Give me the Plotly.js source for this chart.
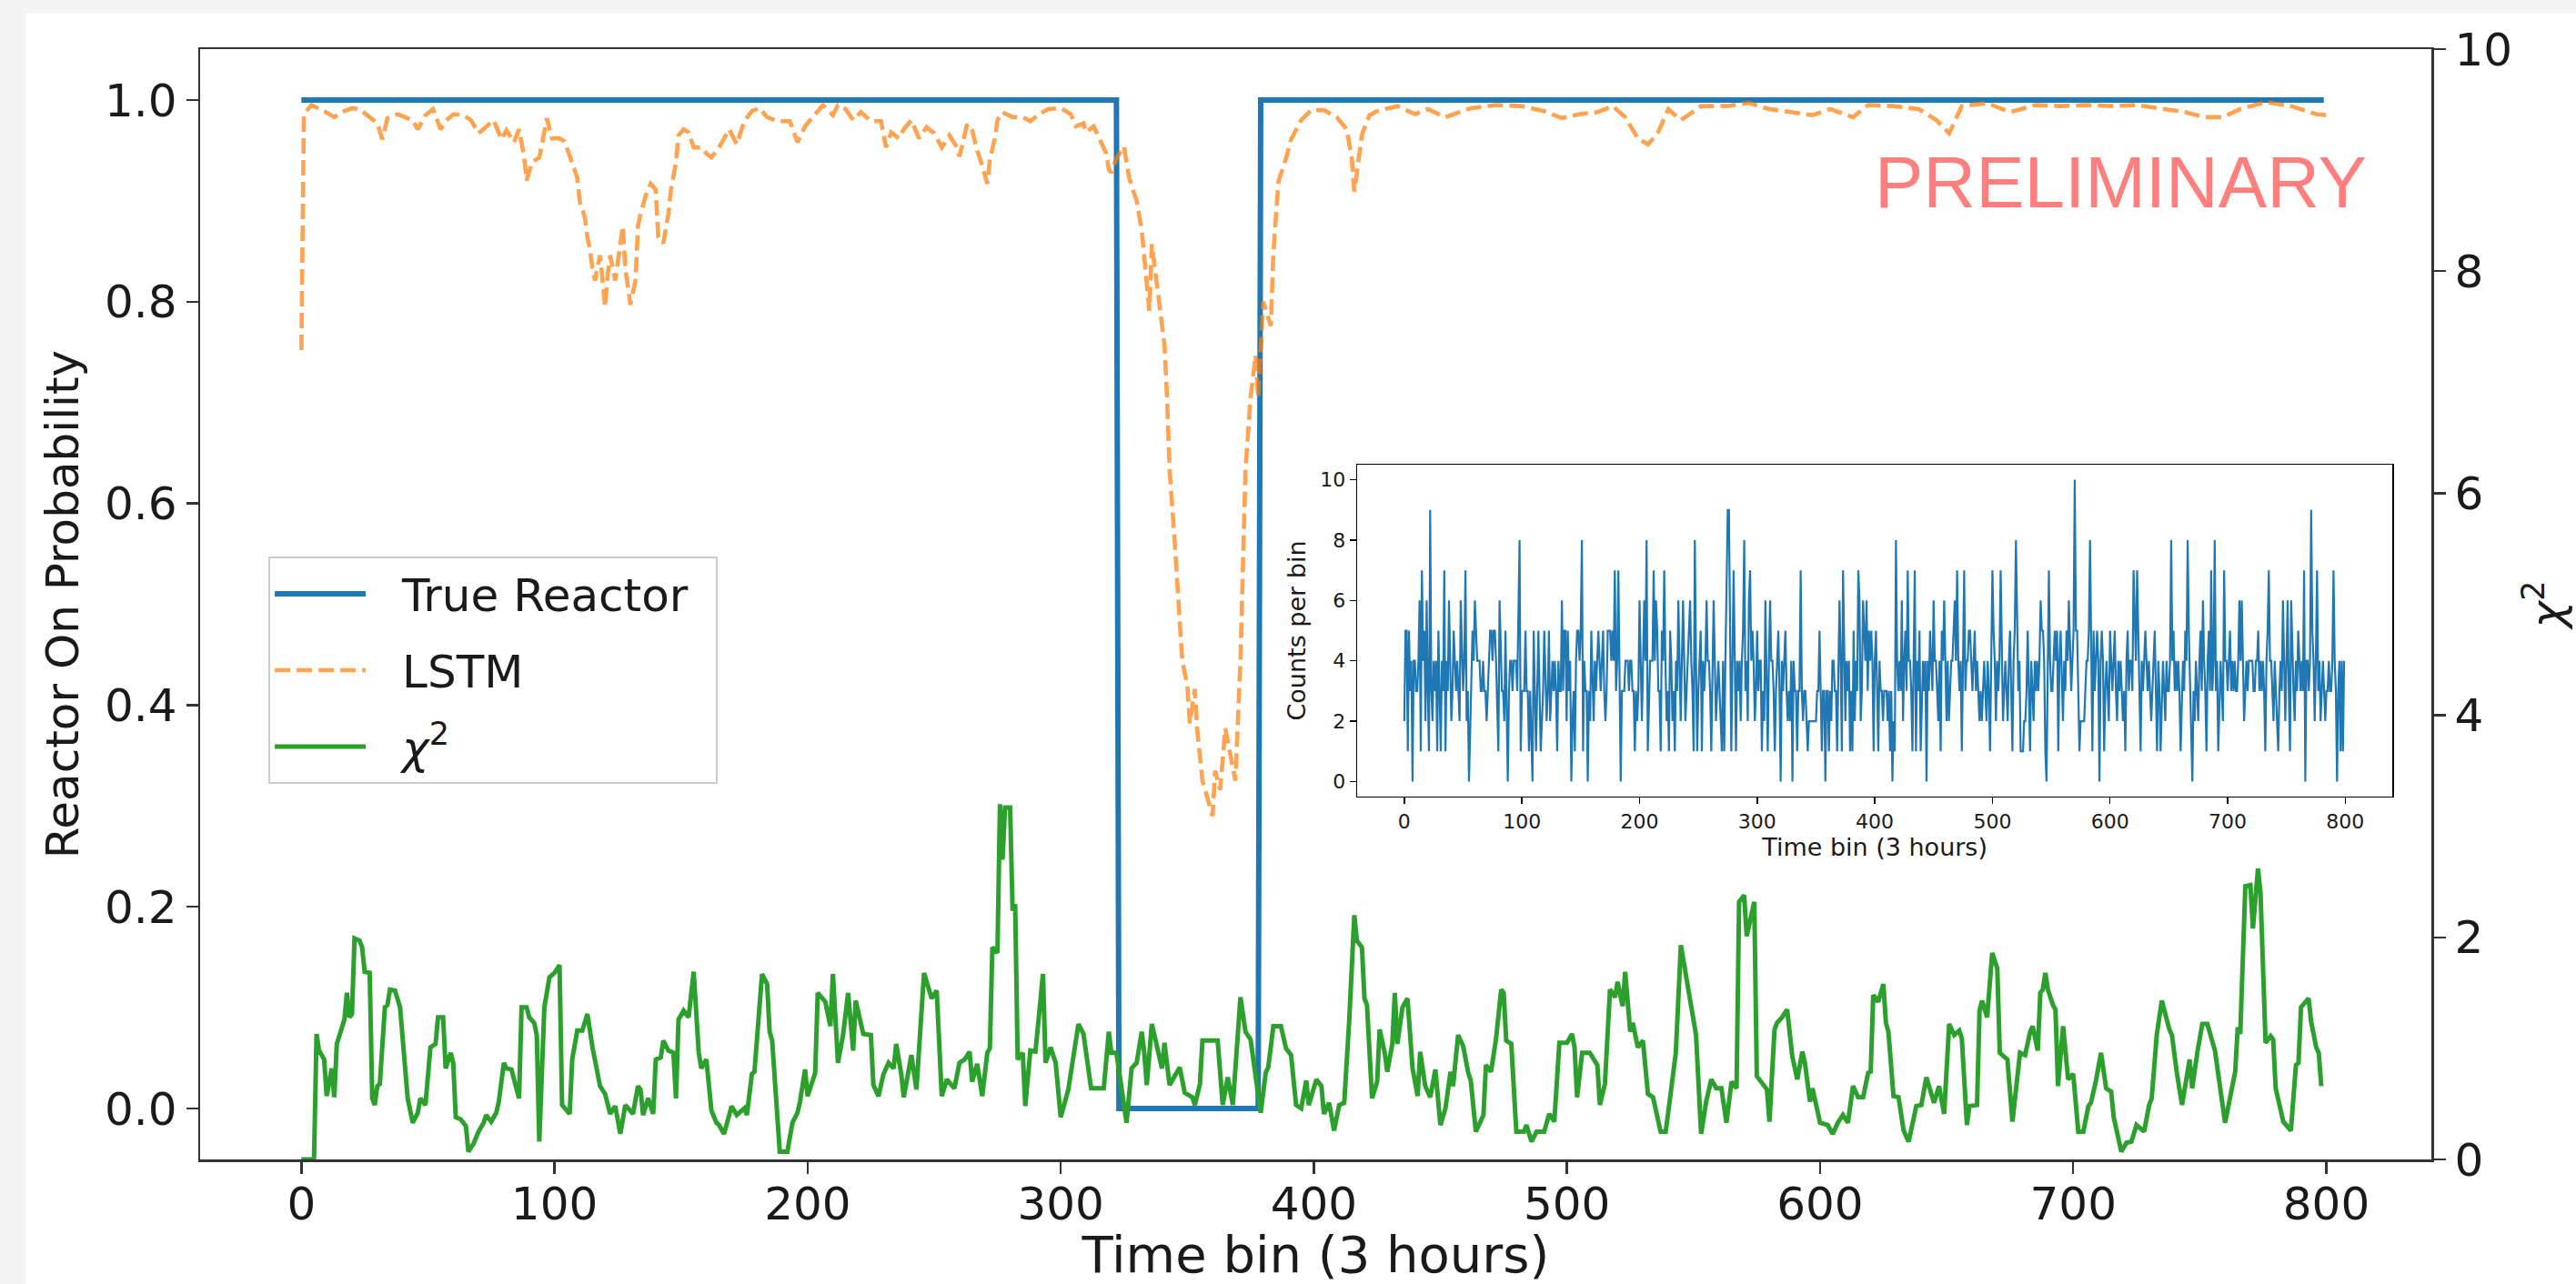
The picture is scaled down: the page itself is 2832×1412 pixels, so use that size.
<!DOCTYPE html>
<html>
<head>
<meta charset="utf-8">
<script src="https://cdn.plot.ly/plotly-3.0.1.min.js"></script>
<style>
  html, body { margin: 0; padding: 0; background: #f4f4f4; width: 2832px; height: 1412px; overflow: hidden; }
  #chart { position: absolute; left: 28px; top: 15px; width: 2804px; height: 1397px; background: #ffffff; }
</style>
</head>
<body>
<div id="chart"></div>
<script>
// ---------- DATA ----------
const trueBins = [0, 322, 323, 378, 379, 799];
const trueVals = [1, 1, 0, 0, 1, 1];

const lstmBins = [0,1,4,9,13,16,20,23,27,30,32,34,38,41,44,46,49,52,55,57,60,64,67,70,73,76,79,81,84,86,88,89,91,94,95,97,99,102,104,107,109,110,112,113,114,115,116,118,120,121,122,124,126,127,128,130,132,133,134,136,138,140,141,143,145,146,148,149,151,153,155,158,160,162,165,169,172,175,178,181,184,188,193,196,199,202,206,210,212,215,218,221,225,229,231,233,236,238,241,244,247,250,253,256,259,260,263,265,267,269,271,272,274,275,277,281,285,288,291,295,300,304,306,309,310,313,316,318,319,320,322,325,327,330,332,333,335,336,338,341,342,343,345,347,348,350,351,353,354,356,358,360,361,363,365,367,369,371,372,373,375,377,378,380,383,384,386,389,391,395,399,404,409,413,415,416,419,422,425,433,440,445,452,462,472,482,491,498,505,512,518,523,528,532,536,540,545,553,563,572,580,590,597,604,613,619,629,639,646,651,656,666,675,685,695,705,715,725,734,744,752,759,766,776,786,796,800];
const lstmVals = [0.752,0.986,0.995,0.989,0.983,0.988,0.992,0.991,0.983,0.977,0.961,0.982,0.986,0.983,0.980,0.971,0.985,0.991,0.971,0.979,0.986,0.985,0.980,0.967,0.974,0.980,0.961,0.970,0.958,0.971,0.944,0.920,0.938,0.943,0.955,0.982,0.962,0.962,0.959,0.937,0.923,0.899,0.884,0.864,0.852,0.833,0.821,0.846,0.795,0.827,0.846,0.821,0.855,0.875,0.833,0.797,0.821,0.875,0.887,0.905,0.917,0.911,0.864,0.858,0.887,0.911,0.938,0.965,0.971,0.968,0.953,0.953,0.947,0.943,0.953,0.971,0.956,0.979,0.989,0.992,0.983,0.979,0.979,0.958,0.974,0.983,0.995,0.985,0.995,0.991,0.980,0.988,0.979,0.979,0.953,0.968,0.962,0.971,0.980,0.962,0.973,0.967,0.953,0.965,0.953,0.944,0.976,0.970,0.950,0.935,0.917,0.941,0.962,0.980,0.988,0.983,0.983,0.979,0.985,0.991,0.992,0.986,0.974,0.977,0.968,0.974,0.959,0.947,0.931,0.928,0.942,0.954,0.923,0.900,0.871,0.843,0.791,0.857,0.814,0.757,0.705,0.634,0.563,0.492,0.444,0.420,0.382,0.416,0.373,0.325,0.307,0.290,0.335,0.316,0.377,0.349,0.325,0.444,0.539,0.634,0.705,0.747,0.705,0.800,0.776,0.848,0.919,0.942,0.961,0.980,0.990,0.990,0.983,0.971,0.942,0.909,0.966,0.985,0.989,0.994,0.986,0.991,0.983,0.992,0.995,0.994,0.989,0.982,0.986,0.988,0.994,0.983,0.962,0.956,0.968,0.991,0.980,0.994,0.994,0.997,0.991,0.988,0.985,0.991,0.983,0.995,0.994,0.991,0.980,0.967,0.994,0.997,0.988,0.995,0.994,0.995,0.994,0.995,0.992,0.988,0.983,0.983,0.991,0.998,0.994,0.986,0.985];

const chiBins = [0,5,6,7,9,10,12,13,14,17,18,19,20,21,23,24,25,27,28,29,30,31,33,34,35,37,39,41,42,44,46,47,49,51,53,54,56,57,59,60,61,63,65,66,68,70,72,73,75,77,78,80,81,83,84,86,87,89,90,92,93,94,96,98,100,102,103,106,107,109,111,113,115,117,118,120,122,124,126,128,131,133,134,135,137,139,140,142,143,145,147,148,149,151,153,155,156,157,158,160,162,164,165,167,170,172,175,176,178,179,182,184,185,186,189,192,194,196,197,199,200,203,204,207,209,210,212,214,216,218,219,221,222,225,226,228,230,232,234,235,237,238,241,243,246,249,251,253,255,258,260,262,264,265,267,269,271,272,273,275,276,277,278,280,281,282,283,285,286,288,290,291,293,294,296,298,300,303,307,309,312,317,319,320,322,326,328,330,332,333,334,336,338,340,341,343,345,347,349,352,353,355,356,359,362,364,366,368,371,373,375,379,381,382,384,387,389,391,393,395,397,398,401,403,404,406,408,410,412,414,416,417,419,420,421,423,425,426,428,429,431,432,433,435,437,439,441,442,444,446,448,450,452,454,455,457,459,461,462,464,467,468,470,472,474,475,476,478,480,483,484,486,488,491,493,495,497,500,502,503,504,506,509,512,513,515,517,519,520,522,523,525,526,528,530,532,534,537,539,541,543,545,548,551,553,555,557,559,561,563,565,567,568,570,571,573,574,575,578,579,580,582,583,585,587,589,591,593,594,596,597,600,603,605,607,609,611,613,615,617,619,620,621,623,625,626,627,629,631,633,635,638,640,642,645,647,649,651,653,655,656,658,659,662,663,664,666,668,670,671,674,676,677,679,681,683,684,686,687,688,689,690,692,693,694,696,698,700,702,704,706,707,709,711,713,715,716,719,721,723,725,728,730,731,733,735,738,739,741,743,746,747,749,751,753,756,760,762,764,765,766,768,770,771,773,774,776,778,779,780,783,786,788,789,790,793,794,796,797,798];
const chiVals = [0,0,1.13,0.98,0.90,0.57,0.82,0.56,1.04,1.26,1.50,1.28,1.31,1.99,1.97,1.91,1.69,1.68,0.55,0.49,0.66,0.68,1.37,1.39,1.53,1.52,1.37,0.85,0.55,0.33,0.42,0.55,0.49,1.01,1.04,1.28,1.28,0.82,0.96,0.87,0.38,0.36,0.30,0.07,0.14,0.25,0.33,0.40,0.34,0.42,0.52,0.87,0.82,0.81,0.71,0.55,1.37,1.37,1.28,1.23,1.12,0.16,1.37,1.64,1.68,1.75,0.49,0.41,0.90,1.16,1.16,1.31,1.01,0.77,0.66,0.59,0.41,0.48,0.23,0.49,0.41,0.66,0.63,0.40,0.55,0.41,0.90,0.92,1.07,0.98,0.96,0.55,1.26,1.34,1.28,1.69,1.31,0.96,0.82,0.90,0.44,0.33,0.31,0.23,0.48,0.40,0.46,0.40,0.77,0.79,1.67,1.58,1.15,1.07,0.07,0.07,0.33,0.42,0.52,0.81,0.57,0.78,1.50,1.42,1.20,1.67,0.87,1.12,1.50,0.98,1.43,1.23,1.13,1.12,0.67,0.57,0.77,0.87,0.82,1.04,0.77,0.56,0.94,0.63,1.68,1.45,1.52,0.57,0.72,0.64,0.87,0.90,0.97,0.70,0.86,0.57,0.96,1.00,1.91,1.86,3.20,2.70,3.17,3.17,2.24,2.30,0.90,0.96,0.48,0.98,0.97,1.20,1.67,0.87,1.01,0.87,0.38,0.63,1.22,1.13,0.64,0.64,1.15,0.96,0.96,0.33,0.82,0.87,1.15,0.96,0.67,1.22,1.01,0.82,1.05,0.67,0.75,0.83,0.60,0.56,0.49,0.68,1.07,1.07,1.07,0.49,0.74,0.49,1.46,1.15,1.08,0.42,0.78,0.83,1.20,1.20,1.00,0.94,0.49,0.46,0.71,0.49,0.72,0.66,0.41,0.51,0.26,0.49,0.51,1.26,2.20,1.97,1.91,1.45,1.39,0.55,0.70,1.17,0.96,0.79,1.04,1.50,1.04,1.37,1.45,0.82,0.57,0.97,0.66,0.56,0.81,0.31,0.46,0.79,0.66,1.12,1.02,0.78,0.71,0.25,0.40,0.85,0.79,1.09,1.53,1.50,1.07,1.04,0.25,0.25,0.31,0.16,0.25,0.25,0.41,0.34,1.05,1.05,1.13,1.01,0.56,0.96,0.96,0.85,0.49,0.68,1.53,1.46,1.60,1.38,1.69,1.15,1.23,1.01,1.07,0.59,0.56,0.25,0.25,0.60,0.96,1.93,1.50,1.12,0.23,0.52,0.72,0.64,0.64,0.33,0.70,0.64,2.32,2.38,2.01,2.20,2.32,0.75,0.67,0.63,0.34,1.17,1.23,1.28,1.35,0.93,0.72,0.97,0.87,0.52,0.64,0.33,0.31,0.23,0.33,0.40,0.33,0.66,0.56,0.56,0.78,0.79,1.48,1.42,1.58,1.23,1.15,0.57,0.56,0.26,0.16,0.48,0.49,0.74,0.51,0.66,0.41,1.22,1.12,1.16,1.09,0.31,0.48,0.49,1.34,1.43,1.28,1.86,1.72,0.96,0.90,0.34,0.55,0.96,0.94,1.15,1.20,0.98,1.50,1.53,1.68,1.53,1.39,1.35,0.66,1.20,0.72,0.77,0.25,0.25,0.48,0.51,0.71,0.96,0.64,0.61,0.38,0.07,0.15,0.16,0.31,0.25,0.49,0.55,1.12,1.43,1.17,1.12,0.77,0.49,0.90,0.64,0.96,1.22,1.22,0.98,0.33,0.55,0.79,1.19,1.13,2.46,2.47,2.08,2.62,2.40,1.05,1.11,1.08,0.64,0.34,0.26,0.85,0.87,1.37,1.45,1.24,1.01,0.96,0.66];

// inset: counts per time bin, one value per bin 0..799
const counts = [
2,5,5,1,5,3,4,0,4,4,3,3,4,6,1,7,4,5,2,6,3,1,9,3,2,4,3,4,1,5,3,1,4,3,7,1,4,3,6,4,2,3,5,4,3,4,3,2,6,4,
3,4,7,2,3,0,2,3,5,4,6,5,4,4,4,3,3,4,3,3,2,3,4,5,5,4,5,5,4,2,1,6,4,3,3,2,5,3,0,3,4,4,3,4,4,4,3,5,8,1,
3,3,3,5,3,3,1,3,1,0,5,3,1,3,5,3,1,2,3,5,3,2,3,5,2,3,4,3,4,3,1,4,3,3,6,3,5,5,2,5,3,4,0,2,3,1,4,5,5,4,
5,8,1,4,3,3,0,3,2,5,3,2,4,3,4,5,4,3,4,5,3,2,3,5,5,5,4,5,4,7,3,4,7,3,0,3,3,3,4,4,4,3,4,4,3,3,1,3,2,3,
6,4,2,4,6,4,8,1,3,4,4,4,7,4,6,5,3,3,1,5,4,7,4,2,3,1,5,4,2,3,1,4,3,6,4,2,4,6,4,2,3,4,5,6,4,3,1,8,4,1,
3,4,5,1,4,3,4,6,4,4,3,1,4,6,4,2,3,4,3,2,1,4,1,4,6,9,9,4,1,4,7,4,1,4,3,4,2,4,5,8,3,4,2,6,7,4,5,4,2,3,
5,3,4,4,1,3,2,6,3,1,4,6,4,4,3,1,3,4,5,3,0,4,3,4,5,3,2,3,2,4,0,4,3,3,1,3,3,7,3,2,3,3,2,1,2,2,2,2,2,2,
2,3,3,5,3,1,3,3,0,3,3,1,3,2,4,4,3,3,1,4,6,4,1,7,4,2,4,3,4,1,3,1,5,2,4,3,7,6,2,3,6,5,4,6,3,5,4,5,4,1,
4,5,3,1,4,3,3,2,3,3,3,2,3,1,3,0,2,1,8,4,3,4,3,6,2,4,5,3,7,4,4,3,1,4,7,1,4,3,5,1,3,4,3,4,0,4,3,5,4,3,
6,4,4,3,2,4,1,5,4,6,4,2,4,2,3,4,4,5,6,4,7,4,3,4,1,4,7,3,4,4,5,5,4,3,4,5,3,4,3,2,3,2,3,4,3,2,4,3,1,4,
7,5,4,2,4,3,4,7,4,2,3,4,3,2,4,5,3,1,4,5,8,5,3,4,1,1,1,2,2,3,5,3,1,4,3,2,4,3,4,3,4,6,5,5,4,1,0,4,7,4,
3,3,4,5,4,5,1,4,5,3,2,4,3,5,4,6,4,3,4,5,10,5,5,3,1,2,2,2,2,3,4,4,5,8,4,1,5,3,4,5,4,0,4,5,4,1,3,4,3,2,
5,4,3,4,5,3,2,4,3,4,3,2,3,1,4,5,3,4,4,3,7,5,4,7,5,3,1,4,3,4,5,4,3,4,3,2,3,4,5,3,1,4,3,1,3,4,3,2,4,3,
3,4,8,4,5,3,4,3,4,3,1,3,4,3,5,4,8,5,3,2,0,3,2,4,3,2,4,5,3,6,4,3,1,4,5,3,7,3,4,8,3,4,1,3,4,3,2,7,4,4,
3,4,5,3,4,3,4,3,3,4,6,4,6,4,2,3,4,3,4,4,4,4,3,3,4,4,5,3,4,3,4,3,1,4,5,7,4,4,3,2,4,3,2,1,3,4,3,6,4,2,
4,6,3,1,6,4,3,2,4,3,5,4,3,4,3,7,0,4,4,3,4,9,5,4,2,4,7,3,4,2,3,4,3,2,3,3,4,3,3,4,7,4,3,0,3,4,1,4,1,4
];
const countBins = counts.map((v, i) => i);

const mainXTicks = [0, 100, 200, 300, 400, 500, 600, 700, 800];
const probTicks = [0.0, 0.2, 0.4, 0.6, 0.8, 1.0];
const chiTicks = [0, 2, 4, 6, 8, 10];
const insetXTicks = [0, 100, 200, 300, 400, 500, 600, 700, 800];
const insetYTicks = [0, 2, 4, 6, 8, 10];

// ---------- PLOT ----------
const F = 'DejaVu Sans, Liberation Sans, sans-serif';
const dark = '#1a1a1a';
const spine = '#333333';
const gap = '\u2002\u2009';

const traces = [
  { x: trueBins, y: trueVals, type: 'scatter', mode: 'lines', name: gap + 'True Reactor\u2002', legendgroup: 'a',
    line: { color: '#1f77b4', width: 6 }, xaxis: 'x', yaxis: 'y' },
  { x: lstmBins, y: lstmVals, type: 'scatter', mode: 'lines', name: gap + 'LSTM', legendgroup: 'b',
    line: { color: 'rgba(255,127,14,0.72)', width: 4.6, dash: '17px,7px' }, xaxis: 'x', yaxis: 'y' },
  { x: chiBins, y: chiVals, type: 'scatter', mode: 'lines', name: gap + '<i>χ</i><sup>2</sup>', legendgroup: 'c',
    line: { color: '#2ca02c', width: 5 }, xaxis: 'x', yaxis: 'y2' },
  { x: countBins, y: counts, type: 'scatter', mode: 'lines', showlegend: false,
    line: { color: '#1f77b4', width: 2.2 }, xaxis: 'x3', yaxis: 'y3' }
];

const layout = {
  width: 2804, height: 1397,
  paper_bgcolor: '#ffffff', plot_bgcolor: 'rgba(0,0,0,0)',
  margin: { l: 192, r: 159, t: 39, b: 137 },
  font: { family: F, color: dark },
  showlegend: true,
  xaxis: {
    domain: [0, 1], range: [-40, 841.5], anchor: 'y',
    tickvals: mainXTicks, ticktext: mainXTicks.map(String),
    ticks: 'outside', ticklen: 13, tickwidth: 2.5, tickcolor: spine,
    ticklabelstandoff: -10,
    showline: true, linecolor: spine, linewidth: 2.5, mirror: true,
    showgrid: false, zeroline: false,
    tickfont: { size: 50, family: F, color: dark },
    title: { text: 'Time bin (3 hours)', font: { size: 56, family: F, color: dark }, standoff: 12 }
  },
  yaxis: {
    domain: [0, 1], range: [-0.0505, 1.0505], anchor: 'x',
    tickvals: probTicks, ticktext: probTicks.map(v => v.toFixed(1)),
    ticks: 'outside', ticklen: 13, tickwidth: 2.5, tickcolor: spine,
    showline: true, linecolor: spine, linewidth: 2.5,
    showgrid: false, zeroline: false,
    tickfont: { size: 50, family: F, color: dark },
    title: { text: 'Reactor On Probability', font: { size: 50, family: F, color: dark }, standoff: 13 }
  },
  yaxis2: {
    overlaying: 'y', side: 'right', anchor: 'x', range: [0, 10],
    tickvals: chiTicks, ticktext: chiTicks.map(String),
    ticks: 'outside', ticklen: 13, tickwidth: 2.5, tickcolor: spine,
    showline: true, linecolor: spine, linewidth: 2.5,
    showgrid: false, zeroline: false,
    tickfont: { size: 50, family: F, color: dark },
    title: { text: '<i>χ</i><sup>2</sup>', font: { size: 50, family: F, color: dark }, standoff: 22 }
  },
  xaxis3: {
    domain: [0.5186, 0.9825], range: [-40, 840], anchor: 'y3',
    tickvals: insetXTicks, ticktext: insetXTicks.map(String),
    ticks: 'outside', ticklen: 7, tickwidth: 1.5, tickcolor: '#000',
    showline: true, linecolor: '#000', linewidth: 1.5, mirror: true,
    showgrid: false, zeroline: false,
    tickfont: { size: 22, family: F, color: dark },
    title: { text: 'Time bin (3 hours)', font: { size: 27, family: F, color: dark }, standoff: 4 }
  },
  yaxis3: {
    domain: [0.3268, 0.6257], range: [-0.5, 10.5], anchor: 'x3',
    tickvals: insetYTicks, ticktext: insetYTicks.map(String),
    ticks: 'outside', ticklen: 7, tickwidth: 1.5, tickcolor: '#000',
    showline: true, linecolor: '#000', linewidth: 1.5, mirror: true,
    showgrid: false, zeroline: false,
    tickfont: { size: 22, family: F, color: dark },
    title: { text: 'Counts per bin', font: { size: 27, family: F, color: dark }, standoff: 8 }
  },
  legend: {
    x: 0.0306, y: 0.543, xanchor: 'left', yanchor: 'top',
    bgcolor: 'rgba(255,255,255,0.85)', bordercolor: '#cccccc', borderwidth: 2,
    font: { size: 50, family: F, color: dark },
    itemwidth: 100, tracegroupgap: 16
  },
  annotations: [
    { xref: 'paper', yref: 'paper', x: 0.972, y: 0.880, xanchor: 'right', yanchor: 'middle',
      text: 'PRELIMINARY', showarrow: false,
      font: { size: 80, family: 'Liberation Sans, Arial, sans-serif', color: '#ff7f7f' } }
  ]
};

Plotly.newPlot('chart', traces, layout, { displayModeBar: false, staticPlot: true });
</script>
</body>
</html>
